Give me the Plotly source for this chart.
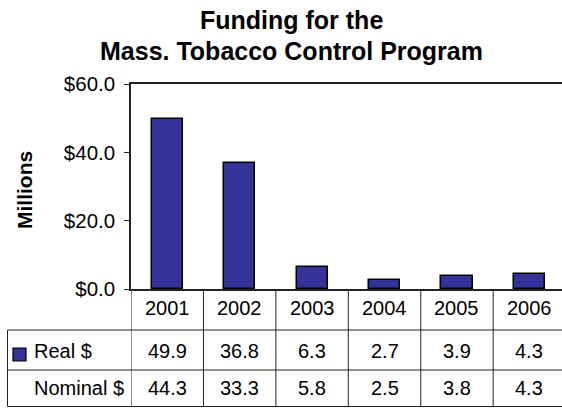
import plotly.graph_objects as go

# ---- data ----
years = ["2001", "2002", "2003", "2004", "2005", "2006"]
real_vals = [49.9, 36.8, 6.3, 2.7, 3.9, 4.3]
nominal_vals = [44.3, 33.3, 5.8, 2.5, 3.8, 4.3]
series_names = ["Real $", "Nominal $"]
title_lines = ["Funding for the", "Mass. Tobacco Control Program"]
y_title = "Millions"

# ---- geometry (pixels) ----
W, H = 562, 408
L, R, T, B = 131, 0, 84, 119
plot_w = W - L - R
plot_h = H - T - B
zero_px = T + plot_h

def px_x(px):
    return (px - L) / plot_w

def px_y(py):
    return (zero_px - py) / plot_h

FONT = "Liberation Sans, Arial, Helvetica, sans-serif"
LINE = "#222222"
BAR = "#333399"

fig = go.Figure()
fig.add_trace(go.Bar(
    x=list(range(len(years))), y=real_vals, name=series_names[0],
    marker=dict(color=BAR, line=dict(color="#000000", width=1.5)),
    width=0.43, hoverinfo="skip",
))

shapes = []
# table vertical lines (category boundaries), including axis extension
for i in range(len(years)):
    shapes.append(dict(type="line", xref="x", yref="paper",
                       x0=i - 0.5, x1=i - 0.5, y0=0, y1=px_y(406.5),
                       line=dict(color=LINE, width=1)))
# table horizontal lines
for py in [330, 370, 406.5]:
    shapes.append(dict(type="line", xref="paper", yref="paper",
                       x0=px_x(7.5), x1=1.0, y0=px_y(py), y1=px_y(py),
                       line=dict(color=LINE, width=1)))
# table left border
shapes.append(dict(type="line", xref="paper", yref="paper",
                   x0=px_x(7.5), x1=px_x(7.5), y0=px_y(330), y1=px_y(406.5),
                   line=dict(color=LINE, width=1)))
# legend key
shapes.append(dict(type="rect", xref="paper", yref="paper",
                   x0=px_x(13), x1=px_x(26), y0=px_y(361), y1=px_y(348),
                   fillcolor=BAR, line=dict(color="#000000", width=1.2)))

ann = []
row_y = {"year": 307.5, "real": 350.5, "nom": 388}
TF = dict(size=20, family=FONT, color="#000")
for i, yr in enumerate(years):
    ann.append(dict(x=i, y=px_y(row_y["year"]), xref="x", yref="paper", text=yr,
                    showarrow=False, font=TF, xanchor="center", yanchor="middle"))
    ann.append(dict(x=i, y=px_y(row_y["real"]), xref="x", yref="paper",
                    text=f"{real_vals[i]:.1f}",
                    showarrow=False, font=TF, xanchor="center", yanchor="middle"))
    ann.append(dict(x=i, y=px_y(row_y["nom"]), xref="x", yref="paper",
                    text=f"{nominal_vals[i]:.1f}",
                    showarrow=False, font=TF, xanchor="center", yanchor="middle"))
ann.append(dict(x=px_x(32), y=px_y(row_y["real"]), xref="paper", yref="paper",
                text=series_names[0], showarrow=False, font=TF,
                xanchor="left", yanchor="middle"))
ann.append(dict(x=px_x(32), y=px_y(row_y["nom"]), xref="paper", yref="paper",
                text=series_names[1], showarrow=False, font=TF,
                xanchor="left", yanchor="middle"))
# title
ann.append(dict(x=px_x(291), y=px_y(20), xref="paper", yref="paper",
                text=f"<b>{title_lines[0]}</b>", showarrow=False,
                font=dict(size=25, family=FONT, color="#000"),
                xanchor="center", yanchor="middle"))
ann.append(dict(x=px_x(291), y=px_y(51), xref="paper", yref="paper",
                text=f"<b>{title_lines[1]}</b>", showarrow=False,
                font=dict(size=25, family=FONT, color="#000"),
                xanchor="center", yanchor="middle"))
# y title
ann.append(dict(x=px_x(24), y=px_y(190), xref="paper", yref="paper",
                text=f"<b>{y_title}</b>", showarrow=False, textangle=-90,
                font=dict(size=21, family=FONT, color="#000"),
                xanchor="center", yanchor="middle"))

fig.update_layout(
    width=W, height=H,
    margin=dict(l=L, r=R, t=T, b=B, pad=0),
    paper_bgcolor="white", plot_bgcolor="white",
    showlegend=False,
    shapes=shapes, annotations=ann,
    font=dict(family=FONT, size=20, color="#000"),
    xaxis=dict(range=[-0.5, 5.45], showticklabels=False, showgrid=False,
               zeroline=False, showline=True, linecolor=LINE, linewidth=1.5,
               mirror=True, ticks="", fixedrange=True),
    yaxis=dict(range=[0, 60], dtick=20, tick0=0, tickformat="$.1f",
               showgrid=False, zeroline=False, showline=True, linecolor=LINE,
               linewidth=1.5, ticks="outside", ticklen=5, tickwidth=1,
               tickcolor=LINE, tickfont=dict(size=20.5, family=FONT, color="#000"),
               ticklabelstandoff=5, fixedrange=True),
    bargap=0,
)

fig.write_html("out.html", config={"displayModeBar": False},
               post_script="document.body.style.margin='0';document.body.style.overflow='hidden';")
